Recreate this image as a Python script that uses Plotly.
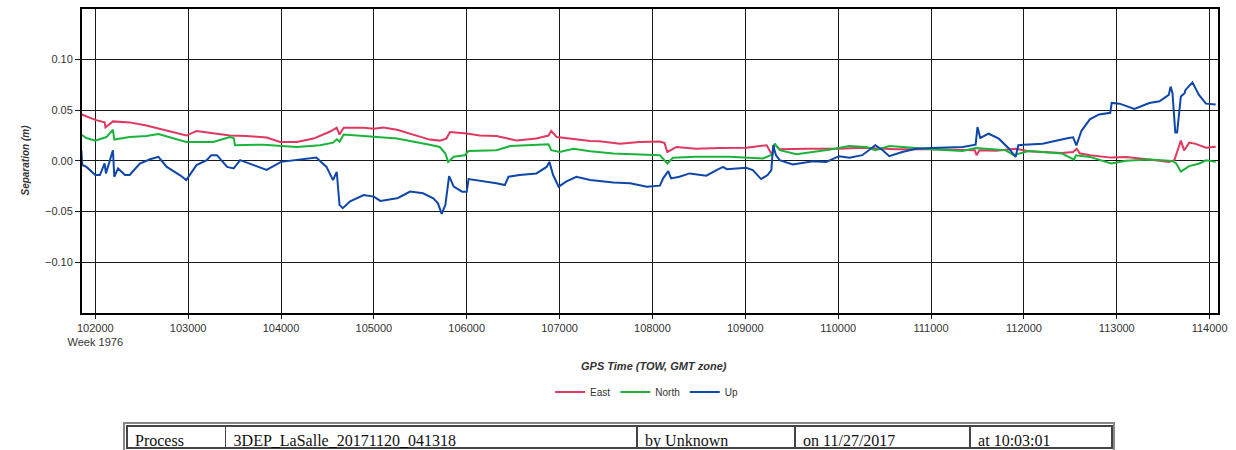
import plotly.graph_objects as go

# ---------------- data ----------------
east_x = [101850, 101905, 102000, 102100, 102110, 102190, 102370, 102550, 102730, 102980, 103090,
          103270, 103450, 103630, 103845, 103990, 104170, 104350, 104530, 104600, 104630, 104675,
          104890, 105000, 105100, 105250, 105430, 105600, 105710, 105780, 105820, 106000, 106140,
          106320, 106540, 106750, 106880, 106910, 106970, 107100, 107330, 107430, 107650, 107860,
          108080, 108130, 108160, 108260, 108470, 108720, 109010, 109230, 109290, 109315, 109370,
          109660, 110010, 110260, 110620, 111000, 111340, 111470, 111490, 111520, 111700, 111910,
          112050, 112410, 112530, 112570, 112600, 112710, 112940, 113100, 113350, 113560, 113620,
          113690, 113725, 113780, 113850, 113960, 114065]
east_y = [0.046, 0.044, 0.0405, 0.038, 0.033, 0.039, 0.038, 0.035, 0.031, 0.025, 0.0295,
          0.0275, 0.025, 0.0245, 0.023, 0.0186, 0.0186, 0.022, 0.029, 0.0327, 0.026, 0.0327,
          0.0327, 0.0317, 0.033, 0.0307, 0.026, 0.021, 0.020, 0.022, 0.0285, 0.027, 0.025,
          0.0245, 0.020, 0.022, 0.025, 0.0295, 0.0235, 0.022, 0.0196, 0.0193, 0.017, 0.0186,
          0.019, 0.0175, 0.0088, 0.0137, 0.012, 0.0127, 0.013, 0.0154, 0.0056, 0.0165, 0.0115,
          0.012, 0.012, 0.013, 0.0115, 0.0115, 0.011, 0.0105, 0.0056, 0.0105, 0.010, 0.012,
          0.0095, 0.0078, 0.0087, 0.012, 0.0075, 0.0055, 0.0032, 0.0039, 0.0013, -0.001, 0.0006,
          0.020, 0.0103, 0.018, 0.0168, 0.0129, 0.014]

north_x = [101850, 101905, 102000, 102120, 102190, 102205, 102370, 102550, 102680, 102840, 102980,
           103270, 103450, 103490, 103505, 103810, 104000, 104170, 104420, 104560, 104600, 104630,
           104675, 105000, 105250, 105600, 105710, 105770, 105800, 105860, 105980, 106020, 106320,
           106470, 106880, 106910, 107000, 107150, 107330, 107580, 107940, 108080, 108160, 108220,
           108470, 108830, 109190, 109290, 109315, 109370, 109550, 109730, 109900, 110120, 110300,
           110400, 110550, 110800, 111000, 111340, 111480, 111800, 111890, 112050, 112410, 112540,
           112560, 112710, 112940, 113100, 113350, 113600, 113640, 113690, 113780, 113890, 113960,
           114065]
north_y = [0.0258, 0.0226, 0.020, 0.0235, 0.0307, 0.021, 0.0235, 0.0245, 0.0265, 0.022, 0.0186,
           0.0186, 0.0235, 0.0225, 0.0154, 0.016, 0.0144, 0.0137, 0.0154, 0.018, 0.0213, 0.019,
           0.026, 0.0235, 0.022, 0.016, 0.0137, 0.0072, -0.001, 0.004, 0.0056, 0.0098, 0.0105,
           0.0147, 0.0163, 0.0105, 0.0088, 0.012, 0.0095, 0.0072, 0.0065, 0.0056, -0.0026, 0.003,
           0.004, 0.004, 0.0023, 0.0062, 0.017, 0.0105, 0.0065, 0.0088, 0.011, 0.0147, 0.0137,
           0.0105, 0.0147, 0.013, 0.0115, 0.0098, 0.0127, 0.0105, 0.0056, 0.0098, 0.0072, 0.0013,
           0.0055, 0.0039, -0.0026, 0.0, 0.0013, 0.0, -0.0026, -0.0107, -0.0052, -0.0026, 0.0006,
           -0.001]

up_x = [101850, 101860, 101905, 102000, 102050, 102100, 102115, 102155, 102190, 102205, 102245,
        102320, 102370, 102480, 102590, 102680, 102770, 102910, 102980, 103090, 103200, 103250,
        103310, 103420, 103490, 103560, 103700, 103845, 104000, 104170, 104380, 104490, 104560,
        104600, 104630, 104665, 104745, 104890, 105000, 105070, 105250, 105300, 105390, 105530,
        105640, 105690, 105730, 105770, 105810, 105860, 105950, 106000, 106020, 106320, 106410,
        106450, 106570, 106750, 106860, 106890, 106930, 106990, 107070, 107180, 107330, 107580,
        107760, 107940, 108080, 108115, 108170, 108200, 108290, 108400, 108580, 108690, 108760,
        108800, 109010, 109080, 109170, 109240, 109280, 109300, 109330, 109370, 109510, 109730,
        109870, 110010, 110120, 110260, 110350, 110400, 110480, 110550, 110690, 110840, 111000,
        111340, 111480, 111500, 111530, 111620, 111730, 111840, 111910, 111940, 112000, 112200,
        112480, 112530, 112565, 112620, 112710, 112810, 112930, 112945, 113030, 113190, 113350,
        113460, 113560, 113580, 113600, 113630, 113650, 113690, 113730, 113740, 113815, 113885,
        113960, 114065]
up_y = [0.0105, -0.004, -0.006, -0.014, -0.014, -0.0026, -0.0124, -0.001, 0.0105, -0.0157, -0.0075,
        -0.014, -0.014, -0.0026, 0.0016, 0.004, -0.006, -0.014, -0.019, -0.0042, 0.0007, 0.0056,
        0.0056, -0.006, -0.0075, 0.0007, -0.0042, -0.009, -0.001, 0.0007, 0.0033, -0.006, -0.019,
        -0.0108, -0.0435, -0.0467, -0.040, -0.0337, -0.0353, -0.0396, -0.037, -0.0347, -0.0304, -0.032,
        -0.037, -0.042, -0.0523, -0.0435, -0.015, -0.0255, -0.0304, -0.0304, -0.018, -0.0222, -0.0239,
        -0.0157, -0.014, -0.0124, -0.006, -0.001, -0.014, -0.0255, -0.0206, -0.0157, -0.019, -0.0213,
        -0.0222, -0.0255, -0.0245, -0.0173, -0.0101, -0.0173, -0.0157, -0.0124, -0.0147, -0.0092, -0.006,
        -0.0082, -0.0069, -0.0092, -0.018, -0.014, -0.0092, 0.0154, 0.0056, 0.0007, -0.0036, -0.0003,
        -0.001, 0.0046, 0.003, 0.0056, 0.0115, 0.0154, 0.0105, 0.0046, 0.0088, 0.012, 0.0127,
        0.0137, 0.016, 0.0334, 0.0226, 0.0268, 0.0219, 0.012, 0.0039, 0.0154, 0.016, 0.017,
        0.0226, 0.0233, 0.0152, 0.0297, 0.041, 0.0459, 0.0475, 0.0572, 0.0565, 0.0514, 0.0572,
        0.0588, 0.0652, 0.0733, 0.0669, 0.0281, 0.0281, 0.0636, 0.0669, 0.0701, 0.0775, 0.0652,
        0.0565, 0.0556]

series_names = ["East", "North", "Up"]
x_tick_vals = [102000, 103000, 104000, 105000, 106000, 107000, 108000,
               109000, 110000, 111000, 112000, 113000, 114000]
x_tick_text = ["102000<br>Week 1976", "103000", "104000", "105000", "106000", "107000", "108000",
               "109000", "110000", "111000", "112000", "113000", "114000"]
y_tick_vals = [-0.10, -0.05, 0.00, 0.05, 0.10]
table_row = ["Process", "3DEP_LaSalle_20171120_041318", "by Unknown", "on 11/27/2017", "at 10:03:01"]
table_col_widths = [98, 409, 157, 174, 141]

colors = ["#E0385F", "#1AB43A", "#0E47A9"]

fig = go.Figure()
for name, xs, ys, c in zip(series_names, [east_x, north_x, up_x], [east_y, north_y, up_y], colors):
    fig.add_trace(go.Scatter(x=xs, y=ys, mode="lines", name=name,
                             line=dict(color=c, width=2)))

fig.add_trace(go.Table(
    domain=dict(x=[0.0396, 0.9067], y=[0.0, 0.0544]),
    columnwidth=table_col_widths,
    header=dict(values=table_row, align="left", height=22,
                fill_color="white", line=dict(color="#444", width=1.5),
                font=dict(family="Liberation Serif, Times New Roman, serif", size=16, color="#111")),
    cells=dict(values=[[] for _ in table_row]),
))

tick_font = dict(family="Liberation Sans, Arial, sans-serif", size=11, color="#333")
fig.update_layout(
    width=1236, height=450,
    margin=dict(l=82, r=18, t=9, b=0),
    paper_bgcolor="white", plot_bgcolor="white",
    showlegend=True,
    legend=dict(orientation="h", x=0.497, xanchor="center", y=0.1315, yanchor="middle",
                font=dict(family="Liberation Sans Narrow, Arial Narrow, Liberation Sans, sans-serif",
                          size=10, color="#333"),
                itemwidth=30, bgcolor="rgba(0,0,0,0)"),
    xaxis=dict(range=[101857, 114090], tickvals=x_tick_vals, ticktext=x_tick_text,
               showgrid=True, gridcolor="#1a1a1a", gridwidth=1.2,
               showline=True, linecolor="black", linewidth=2, mirror=True,
               ticks="outside", ticklen=4, tickcolor="#1a1a1a", tickfont=tick_font,
               zeroline=False),
    yaxis=dict(range=[-0.15, 0.15], tickvals=y_tick_vals, tickformat=".2f",
               domain=[0.3113, 1.0],
               showgrid=True, gridcolor="#1a1a1a", gridwidth=1.2,
               showline=True, linecolor="black", linewidth=2, mirror=True,
               ticks="outside", ticklen=5, tickcolor="#1a1a1a", tickfont=tick_font,
               zeroline=False),
    annotations=[
        dict(text="<b><i>Separation (m)</i></b>", xref="paper", yref="paper",
             x=-0.0563, y=0.6576, textangle=-90, showarrow=False,
             font=dict(family="Liberation Sans, Arial, sans-serif", size=10, color="#333")),
        dict(text="<b><i>GPS Time (TOW, GMT zone)</i></b>", xref="paper", yref="paper",
             x=0.5035, y=(450 - 366) / 441, showarrow=False, yanchor="middle",
             font=dict(family="Liberation Sans, Arial, sans-serif", size=11, color="#333")),
    ],
    shapes=[dict(type="rect", xref="paper", yref="paper",
                 x0=(124 - 82) / 1136, x1=(1114 - 82) / 1136,
                 y0=-0.01, y1=(450 - 423) / 441,
                 line=dict(color="#888", width=2))],
)

fig.write_html("out.html")
